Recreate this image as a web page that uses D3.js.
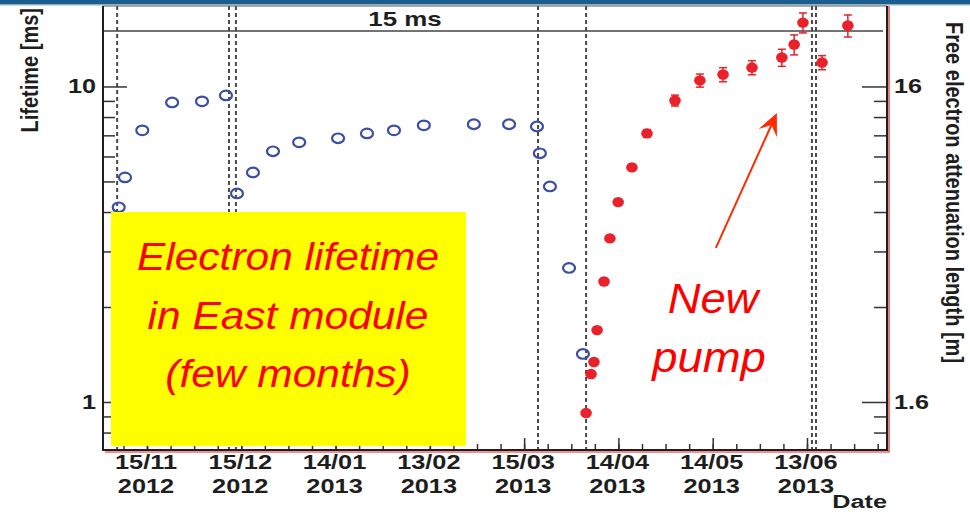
<!DOCTYPE html>
<html>
<head>
<meta charset="utf-8">
<script src="https://cdn.jsdelivr.net/npm/d3@7/dist/d3.min.js"></script>
<style>
  html, body { margin: 0; padding: 0; background: #fff; }
  svg { display: block; }
</style>
</head>
<body>
<svg id="chart" width="970" height="514"></svg>
<script>
// Electron lifetime measurements before the new pump (open markers)
const oldDates = [
  "2012-11-06T00:00", "2012-11-08T00:00", "2012-11-13T12:00", "2012-11-23T00:00",
  "2012-12-02T12:00", "2012-12-10T03:00", "2012-12-13T15:00", "2012-12-18T17:00",
  "2012-12-25T02:00", "2013-01-02T10:00", "2013-01-14T19:00", "2013-01-24T00:00",
  "2013-02-01T14:00", "2013-02-11T02:00", "2013-02-27T00:00", "2013-03-10T05:00",
  "2013-03-19T02:00", "2013-03-20T00:00", "2013-03-23T05:00", "2013-03-29T07:00",
  "2013-04-02T17:00"
];
const oldLifetime = [
  4.14, 5.15, 7.26, 8.90, 8.97, 9.37, 4.58, 5.34, 6.23, 6.65, 6.85, 7.10,
  7.26, 7.53, 7.59, 7.59, 7.47, 6.14, 4.82, 2.66, 1.42
];

// Measurements after the new pump (filled markers with errors)
const newDates = [
  "2013-04-03T17:00", "2013-04-05T07:00", "2013-04-06T05:00", "2013-04-07T05:00",
  "2013-04-09T10:00", "2013-04-11T07:00", "2013-04-13T22:00", "2013-04-18T07:00",
  "2013-04-23T02:00", "2013-05-02T00:00", "2013-05-09T22:00", "2013-05-17T07:00",
  "2013-05-26T12:00", "2013-06-05T00:00", "2013-06-08T22:00", "2013-06-11T17:00",
  "2013-06-17T19:00", "2013-06-26T00:00"
];
const newLifetime = [
  0.923, 1.226, 1.339, 1.69, 2.41, 3.30, 4.30, 5.54, 7.10, 9.03, 10.45, 10.91,
  11.48, 12.35, 13.58, 15.94, 11.91, 15.6
];
const newError = [
  0.02, 0.03, 0.03, 0.04, 0.05, 0.07, 0.09, 0.12, 0.20, 0.36, 0.50, 0.56,
  0.59, 0.77, 0.99, 1.16, 0.61, 1.25
];

// Dashed markers for detector interventions
const eventDates = [
  "2012-11-05T12:00", "2012-12-11T02:00", "2012-12-13T07:00", "2013-03-19T10:00",
  "2013-04-03T17:00", "2013-06-14T14:00", "2013-06-15T21:00"
];

// Date axis: labelled ticks every 30 days, subdivided in four
const dateTicks = [
  "2012-11-15T00:00", "2012-12-15T00:00", "2013-01-14T00:00", "2013-02-13T00:00",
  "2013-03-15T00:00", "2013-04-14T00:00", "2013-05-14T00:00", "2013-06-13T00:00"
];
const dateTickDay = ["15/11", "15/12", "14/01", "13/02", "15/03", "14/04", "14/05", "13/06"];
const dateTickYear = ["2012", "2012", "2013", "2013", "2013", "2013", "2013", "2013"];

// Lifetime axis (ms) and the equivalent attenuation length axis (m)
const lifetimeMajor = [1, 10];
const lifetimeMinor = [0.8, 0.9, 2, 3, 4, 5, 6, 7, 8, 9];
const lengthPerMs = 1.6;
const lengthMajor = [1.6, 16];
const lengthMinor = [1.28, 1.44, 3.2, 4.8, 6.4, 8, 9.6, 11.2, 12.8, 14.4];
const referenceLifetime = 15;

const parse = d3.utcParse("%Y-%m-%dT%H:%M");
const FONT = "'Liberation Sans', Arial, Helvetica, sans-serif";
const RED = "#e8212b";
const BLUE = "#3a4fa3";
const INK = "#1e1e1e";

const svg = d3.select("#chart");
const L = 103, R = 887, T = 6, B = 450;

const x = d3.scaleUtc()
  .domain([parse("2012-11-01T00:00"), parse("2013-07-08T11:00")])
  .range([L, R]);
const y = d3.scaleLog().domain([0.7044, 17.99]).range([B, T]);
const yR = d3.scaleLog().domain([0.7044 * lengthPerMs, 17.99 * lengthPerMs]).range([B, T]);

// Top banner strip
svg.append("rect").attr("x", 0).attr("y", 0).attr("width", 970).attr("height", 4.5).attr("fill", "#1b5d8c");
svg.append("rect").attr("x", 0).attr("y", 4.5).attr("width", 970).attr("height", 1).attr("fill", "#8fb2cc");

// Dashed event lines
svg.append("g").selectAll("line").data(eventDates).join("line")
  .attr("x1", d => x(parse(d))).attr("x2", d => x(parse(d)))
  .attr("y1", T).attr("y2", B)
  .attr("stroke", "#4a4a4a").attr("stroke-width", 2).attr("stroke-dasharray", "4,3");

// Reference lifetime line
svg.append("line")
  .attr("x1", L).attr("x2", R - 4)
  .attr("y1", y(referenceLifetime)).attr("y2", y(referenceLifetime))
  .attr("stroke", "#444").attr("stroke-width", 1.5);

function stretched(g, px, py, str, opts) {
  const t = g.append("text")
    .attr("transform", `translate(${px},${py}) scale(${opts.sx || 1},1)${opts.rotate ? ` rotate(${opts.rotate})` : ""}`)
    .attr("font-family", FONT)
    .attr("font-size", opts.size)
    .attr("font-weight", opts.weight || "bold")
    .attr("font-style", opts.style || "normal")
    .attr("fill", opts.fill || INK)
    .attr("text-anchor", opts.anchor || "middle")
    .text(str);
  return t;
}

stretched(svg, 405, 26, referenceLifetime + " ms", { size: 19.5, sx: 1.33 });

// Old measurements: open markers
const oldPts = oldDates.map((d, i) => ({ t: parse(d), v: oldLifetime[i] }));
svg.append("g").selectAll("ellipse").data(oldPts).join("ellipse")
  .attr("cx", d => x(d.t)).attr("cy", d => y(d.v))
  .attr("rx", 6).attr("ry", 4.8)
  .attr("fill", "none").attr("stroke", BLUE).attr("stroke-width", 2.2);

// New measurements: error bars then filled markers
const newPts = newDates.map((d, i) => ({ t: parse(d), v: newLifetime[i], e: newError[i] }));
const eb = svg.append("g").attr("stroke", RED).attr("stroke-width", 1.5);
eb.selectAll("line.bar").data(newPts).join("line").attr("class", "bar")
  .attr("x1", d => x(d.t)).attr("x2", d => x(d.t))
  .attr("y1", d => y(d.v + d.e)).attr("y2", d => y(d.v - d.e));
eb.selectAll("line.capTop").data(newPts).join("line").attr("class", "capTop")
  .attr("x1", d => x(d.t) - 4).attr("x2", d => x(d.t) + 4)
  .attr("y1", d => y(d.v + d.e)).attr("y2", d => y(d.v + d.e));
eb.selectAll("line.capBot").data(newPts).join("line").attr("class", "capBot")
  .attr("x1", d => x(d.t) - 4).attr("x2", d => x(d.t) + 4)
  .attr("y1", d => y(d.v - d.e)).attr("y2", d => y(d.v - d.e));
svg.append("g").selectAll("ellipse").data(newPts).join("ellipse")
  .attr("cx", d => x(d.t)).attr("cy", d => y(d.v))
  .attr("rx", 5.8).attr("ry", 5.2)
  .attr("fill", RED);

// Axis ticks (drawn inward from the frame)
function ticksOnly(axis) {
  return g => { g.call(axis); g.select(".domain").remove(); g.selectAll("text").remove();
    g.selectAll("line").attr("stroke", "#333").attr("stroke-width", 1.5); };
}
svg.append("g").attr("transform", `translate(${L},0)`)
  .call(ticksOnly(d3.axisRight(y).tickValues(lifetimeMinor).tickSize(12)));
svg.append("g").attr("transform", `translate(${L},0)`)
  .call(ticksOnly(d3.axisRight(y).tickValues(lifetimeMajor).tickSize(24)));
svg.append("g").attr("transform", `translate(${R - 1},0)`)
  .call(ticksOnly(d3.axisLeft(yR).tickValues(lengthMinor).tickSize(12)));
svg.append("g").attr("transform", `translate(${R - 1},0)`)
  .call(ticksOnly(d3.axisLeft(yR).tickValues(lengthMajor).tickSize(24)));

const majorDates = dateTicks.map(parse);
const quarter = 7.5 * 24 * 3600 * 1000;
const minorDates = [];
for (let t = +majorDates[0] - quarter; t < +x.domain()[1]; t += quarter) {
  if (t > +x.domain()[0]) minorDates.push(new Date(t));
}
svg.append("g").attr("transform", `translate(0,${B})`)
  .call(ticksOnly(d3.axisTop(x).tickValues(minorDates).tickSize(6)));
svg.append("g").attr("transform", `translate(0,${B})`)
  .call(ticksOnly(d3.axisTop(x).tickValues(majorDates).tickSize(12)));

// Frame
svg.append("line").attr("x1", L).attr("x2", R).attr("y1", T).attr("y2", T).attr("stroke", "#666").attr("stroke-width", 1);
svg.append("path").attr("d", `M${L},${T}V${B}H${R}V${T}`).attr("fill", "none")
  .attr("stroke", INK).attr("stroke-width", 2);
svg.append("path").attr("d", `M${L + 2},${B + 2}H${R + 2}V${T}`).attr("fill", "none")
  .attr("stroke", "#e02020").attr("stroke-width", 1.2);

// Tick labels
const lab = svg.append("g");
lifetimeMajor.forEach(v => stretched(lab, 96, y(v) + 7, d3.format("~g")(v), { size: 20, sx: 1.26, anchor: "end" }));
lengthMajor.forEach(v => stretched(lab, 894, yR(v) + 7, d3.format("~g")(v), { size: 20, sx: 1.26, anchor: "start" }));
majorDates.forEach((d, i) => {
  stretched(lab, x(d) - 1, 469, dateTickDay[i], { size: 19.5, sx: 1.3 });
  stretched(lab, x(d) - 1, 493, dateTickYear[i], { size: 19.5, sx: 1.3 });
});
stretched(lab, 887, 508, "Date", { size: 19, sx: 1.33, anchor: "end" });

// Axis titles
stretched(svg, 38, 8, "Lifetime [ms]", { size: 20, sx: 1.15, rotate: -90, anchor: "end" });
stretched(svg, 946, 22, "Free electron attenuation length [m]", { size: 20, sx: 1.15, rotate: 90, anchor: "start" });

// Annotation box
svg.append("rect").attr("x", 111).attr("y", 212).attr("width", 355).attr("height", 234).attr("fill", "#ffff00");
const note = ["Electron lifetime", "in East module", "(few months)"];
note.forEach((s, i) => stretched(svg, 288, 270 + i * 58.5, s,
  { size: 39.5, sx: 1.075, weight: "normal", style: "italic", fill: "#ff0000" }));

// Arrow towards the recovered lifetime
const tail = [x(parse("2013-05-15T00:00")), y(3.08)];
const tip = [x(parse("2013-06-03T10:00")), y(8.24)];
const ang = Math.atan2(tip[1] - tail[1], tip[0] - tail[0]);
const headLen = 22, headHalf = 10;
const back = [tip[0] - headLen * Math.cos(ang), tip[1] - headLen * Math.sin(ang)];
const notch = [tip[0] - headLen * 0.6 * Math.cos(ang), tip[1] - headLen * 0.6 * Math.sin(ang)];
const nx = -Math.sin(ang), ny = Math.cos(ang);
svg.append("line").attr("x1", tail[0]).attr("y1", tail[1]).attr("x2", notch[0]).attr("y2", notch[1])
  .attr("stroke", "#ff2a00").attr("stroke-width", 2);
svg.append("path")
  .attr("d", `M${tip[0]},${tip[1]}L${back[0] + nx * headHalf},${back[1] + ny * headHalf}L${notch[0]},${notch[1]}L${back[0] - nx * headHalf},${back[1] - ny * headHalf}Z`)
  .attr("fill", "#ff2a00");

stretched(svg, 713, 313, "New", { size: 42, sx: 1.08, weight: "normal", style: "italic", fill: "#ff0000" });
stretched(svg, 709, 372, "pump", { size: 42, sx: 1.08, weight: "normal", style: "italic", fill: "#ff0000" });
</script>
</body>
</html>
